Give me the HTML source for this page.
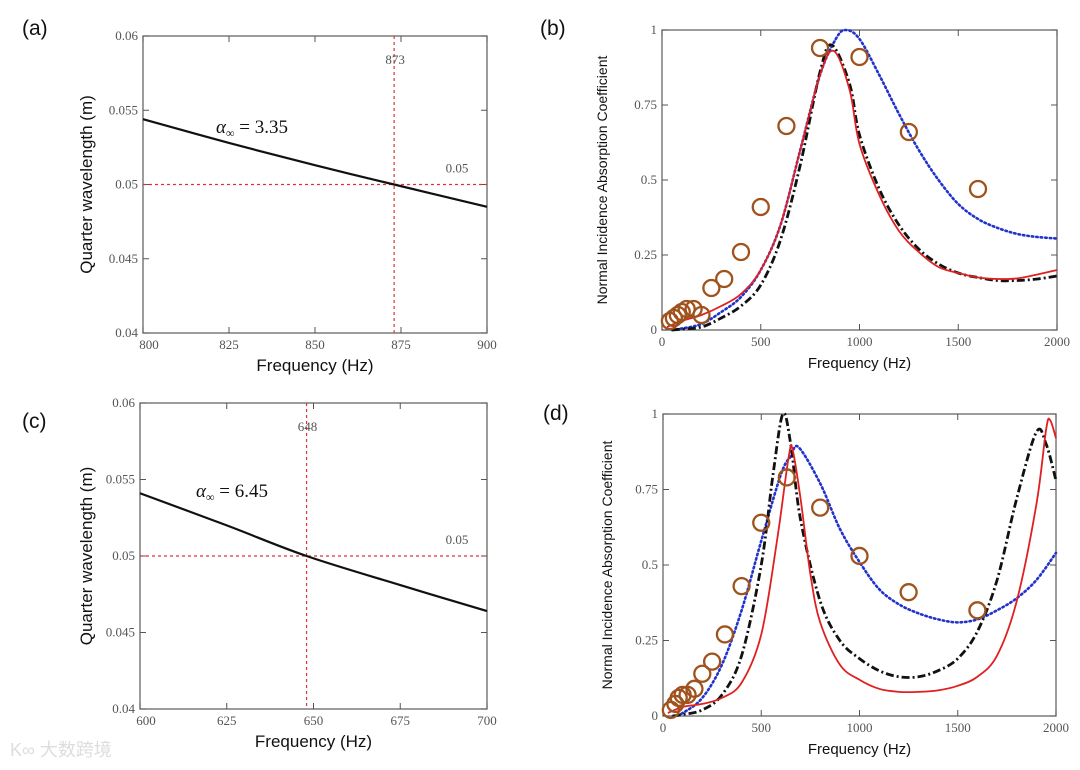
<!DOCTYPE html>
<html><head><meta charset="utf-8"><style>
body{margin:0;background:#fff;width:1080px;height:770px;overflow:hidden}
svg{display:block}
.tick{font-family:"Liberation Serif",serif;font-size:13px;fill:#555}
.ttl{font-family:"Liberation Sans",sans-serif;fill:#111}
</style></head><body>
<svg id="fig" width="1080" height="770" xmlns="http://www.w3.org/2000/svg"></svg>
<script>
// Panel (a)
const aFreq=[800,825,850,873,900];
const aLen=[0.0544,0.0528,0.0513,0.0500,0.0485];
// Panel (c)
const cFreq=[600,625,648,675,700];
const cLen=[0.0541,0.0520,0.0500,0.0481,0.0464];
// Panel (b)
const bRedF=[25,100,200,300,400,500,600,700,800,870,950,1000,1100,1200,1300,1400,1500,1600,1700,1800,1900,2000];
const bRedV=[0.01,0.03,0.05,0.08,0.12,0.2,0.35,0.6,0.85,0.93,0.8,0.62,0.45,0.33,0.26,0.21,0.19,0.175,0.17,0.172,0.185,0.2];
const bBlkF=[50,100,200,300,400,500,600,700,800,860,950,1000,1100,1200,1300,1400,1500,1600,1700,1800,1900,2000];
const bBlkV=[0,0.003,0.01,0.04,0.08,0.15,0.3,0.55,0.86,0.95,0.82,0.65,0.47,0.35,0.27,0.22,0.19,0.175,0.165,0.165,0.17,0.18];
const bBluF=[50,100,200,300,400,500,600,700,800,880,930,1000,1100,1200,1300,1400,1500,1600,1700,1800,1900,2000];
const bBluV=[0,0.005,0.02,0.06,0.11,0.2,0.35,0.6,0.85,0.97,1.0,0.97,0.85,0.72,0.6,0.5,0.42,0.37,0.34,0.32,0.31,0.305];
const bExpF=[40,60,80,100,125,160,200,250,315,400,500,630,800,1000,1250,1600];
const bExpV=[0.03,0.04,0.05,0.06,0.07,0.07,0.05,0.14,0.17,0.26,0.41,0.68,0.94,0.91,0.66,0.47];
// Panel (d)
const dRedF=[25,100,200,300,400,500,580,640,660,700,750,800,900,1000,1100,1200,1300,1400,1500,1600,1700,1800,1900,1950,1970,2000];
const dRedV=[0.01,0.03,0.04,0.06,0.11,0.27,0.58,0.86,0.88,0.72,0.47,0.31,0.17,0.12,0.09,0.08,0.08,0.085,0.1,0.13,0.2,0.38,0.7,0.95,0.98,0.92];
const dBlkF=[50,100,200,300,400,500,560,610,650,700,800,900,1000,1100,1200,1300,1400,1500,1600,1700,1800,1900,1950,2000];
const dBlkV=[0,0.005,0.02,0.07,0.2,0.5,0.8,1.0,0.9,0.65,0.38,0.25,0.19,0.15,0.13,0.13,0.15,0.19,0.28,0.45,0.72,0.94,0.9,0.78];
const dBluF=[50,100,200,300,400,500,600,650,690,800,900,1000,1100,1200,1300,1400,1500,1600,1700,1800,1900,2000];
const dBluV=[0,0.01,0.06,0.17,0.35,0.58,0.8,0.86,0.89,0.77,0.62,0.51,0.42,0.37,0.34,0.32,0.31,0.32,0.35,0.39,0.45,0.54];
const dExpF=[40,63,80,100,125,160,200,250,315,400,500,630,800,1000,1250,1600];
const dExpV=[0.02,0.04,0.06,0.07,0.07,0.09,0.14,0.18,0.27,0.43,0.64,0.79,0.69,0.53,0.41,0.35];
const absTicks=[0,0.25,0.5,0.75,1];
const absTickLabels=["0","0.25","0.5","0.75","1"];
const fTicks=[0,500,1000,1500,2000];
const qTicks=[0.04,0.045,0.05,0.055,0.06];
const qTickLabels=["0.04","0.045","0.05","0.055","0.06"];

const NS="http://www.w3.org/2000/svg";
const svg=document.getElementById('fig');
function el(tag,attrs,parent,text){const e=document.createElementNS(NS,tag);for(const k in attrs)e.setAttribute(k,attrs[k]);if(text!==undefined)e.textContent=text;(parent||svg).appendChild(e);return e;}
function smooth(pts){let d="M"+pts[0][0]+","+pts[0][1];for(let i=0;i<pts.length-1;i++){const p0=pts[Math.max(0,i-1)],p1=pts[i],p2=pts[i+1],p3=pts[Math.min(pts.length-1,i+2)];const c1=[p1[0]+(p2[0]-p0[0])/6,p1[1]+(p2[1]-p0[1])/6],c2=[p2[0]-(p3[0]-p1[0])/6,p2[1]-(p3[1]-p1[1])/6];d+=" C"+c1[0]+","+c1[1]+" "+c2[0]+","+c2[1]+" "+p2[0]+","+p2[1];}return d;}

function panel(o){
  const g=el('g',{});
  
  
  const X=v=>o.x0+(v-o.xmin)/(o.xmax-o.xmin)*(o.x1-o.x0);
  const Y=v=>o.y1-(v-o.ymin)/(o.ymax-o.ymin)*(o.y1-o.y0);
  const box=el('rect',{x:o.x0,y:o.y0,width:o.x1-o.x0,height:o.y1-o.y0,fill:'none',stroke:'#666','stroke-width':1.3},g);
  
  o.xticks.forEach((t,i)=>{const x=X(t);
    el('line',{x1:x,x2:x,y1:o.y1,y2:o.y1-6,stroke:'#555'},g);el('line',{x1:x,x2:x,y1:o.y0,y2:o.y0+6,stroke:'#555'},g);
    const tx=el('text',{x:x+(i==0&&o.shiftFirst?6:0),y:o.y1+16,'text-anchor':'middle',class:'tick'},g,o.xlabels[i]);
    });
  o.yticks.forEach((t,i)=>{const y=Y(t);
    el('line',{x1:o.x0,x2:o.x0+6,y1:y,y2:y,stroke:'#555'},g);el('line',{x1:o.x1,x2:o.x1-6,y1:y,y2:y,stroke:'#555'},g);
    const ty=el('text',{x:o.x0-5,y:y+4,'text-anchor':'end',class:'tick'},g,o.ylabels[i]);
    });
  const xt=el('text',{x:(o.x0+o.x1)/2,y:o.y1+38,'text-anchor':'middle',class:'ttl','font-size':o.xfs},g,'Frequency (Hz)');
  
  const yt=el('text',{x:0,y:0,'text-anchor':'middle',class:'ttl','font-size':o.yfs,transform:`translate(${o.ytx},${(o.y0+o.y1)/2}) rotate(-90)`},g,o.ytitle);
  
  const pl=el('text',{x:o.lx,y:o.ly,class:'ttl','font-size':21},g,o.label);
  
  return {g,X,Y};
}
function series(p,F,V,style,name){
  const pts=F.map((f,i)=>[p.X(f),p.Y(V[i])]);
  const path=el('path',Object.assign({d:smooth(pts),fill:'none'},style),p.g);
  
}
function circles(p,F,V,name){F.forEach((f,i)=>{const c=el('circle',{cx:p.X(f),cy:p.Y(V[i]),r:8,fill:'none',stroke:'#a0521d','stroke-width':2.3},p.g);
  });}

function qpanel(o,F,V,mark,ann){
  const p=panel(Object.assign({xmin:o.xmin,xmax:o.xmax,ymin:0.04,ymax:0.06,yticks:qTicks,ylabels:qTickLabels,ytitle:'Quarter wavelength (m)',xfs:17,yfs:17,shiftFirst:true},o));
  const dash={stroke:'#d33','stroke-width':1.2,'stroke-dasharray':'3,3',fill:'none'};
  const v=el('line',Object.assign({x1:p.X(mark),x2:p.X(mark),y1:o.y0,y2:o.y1},dash),p.g);
  
  const h=el('line',Object.assign({x1:o.x0,x2:o.x1,y1:p.Y(0.05),y2:p.Y(0.05)},dash),p.g);
  
  const ml=el('text',{x:p.X(mark)+1,y:o.y0+28,'text-anchor':'middle',class:'tick','font-size':12},p.g,String(mark));
  
  const tl=el('text',{x:o.x1-30,y:p.Y(0.05)-12,'text-anchor':'middle',class:'tick','font-size':12},p.g,'0.05');
  
  series(p,F,V,{stroke:'#111','stroke-width':2.2},'quarter-wavelength-curve');
  const an=el('text',{x:ann[0],y:ann[1],'font-family':'"Liberation Serif",serif','font-size':19,fill:'#111'},p.g);
  
  el('tspan',{'font-style':'italic'},an,'α');el('tspan',{'font-size':12,dy:4},an,'∞');el('tspan',{dy:-4},an,' = '+o.alpha);
}
qpanel({name:'panel-a',label:'(a)',lx:22,ly:35,x0:143,x1:487,y0:36,y1:333,xmin:800,xmax:900,xticks:[800,825,850,875,900],xlabels:['800','825','850','875','900'],ytx:92,alpha:'3.35'},aFreq,aLen,873,[216,133]);
qpanel({name:'panel-c',label:'(c)',lx:22,ly:428,x0:140,x1:487,y0:403,y1:709,xmin:600,xmax:700,xticks:[600,625,650,675,700],xlabels:['600','625','650','675','700'],ytx:92,alpha:'6.45'},cFreq,cLen,648,[196,497]);

function apanel(o,R,K,B,E){
  const p=panel(Object.assign({xmin:0,xmax:2000,ymin:0,ymax:1,xticks:fTicks,xlabels:fTicks.map(String),yticks:absTicks,ylabels:absTickLabels,ytitle:'Normal Incidence Absorption Coefficient',xfs:15,yfs:14},o));
  series(p,B[0],B[1],{stroke:'#2233cc','stroke-width':2.6,'stroke-dasharray':'1.5,3','stroke-linecap':'round'},'blue-dotted-model');
  series(p,K[0],K[1],{stroke:'#111','stroke-width':2.8,'stroke-dasharray':'8,3,2,3'},'black-dashdot-model');
  series(p,R[0],R[1],{stroke:'#e02020','stroke-width':1.8},'red-solid-model');
  circles(p,E[0],E[1],'measured-point');
}
apanel({name:'panel-b',label:'(b)',lx:540,ly:35,x0:662,x1:1057,y0:30,y1:330,ytx:607},[bRedF,bRedV],[bBlkF,bBlkV],[bBluF,bBluV],[bExpF,bExpV]);
apanel({name:'panel-d',label:'(d)',lx:543,ly:420,x0:663,x1:1056,y0:414,y1:716,ytx:612},[dRedF,dRedV],[dBlkF,dBlkV],[dBluF,dBluV],[dExpF,dExpV]);
const wm=el('text',{x:10,y:756,'font-family':'"Liberation Sans","Noto Sans CJK SC",sans-serif','font-size':18,fill:'#ddd'},svg,'K∞ 大数跨境');

</script>
</body></html>
